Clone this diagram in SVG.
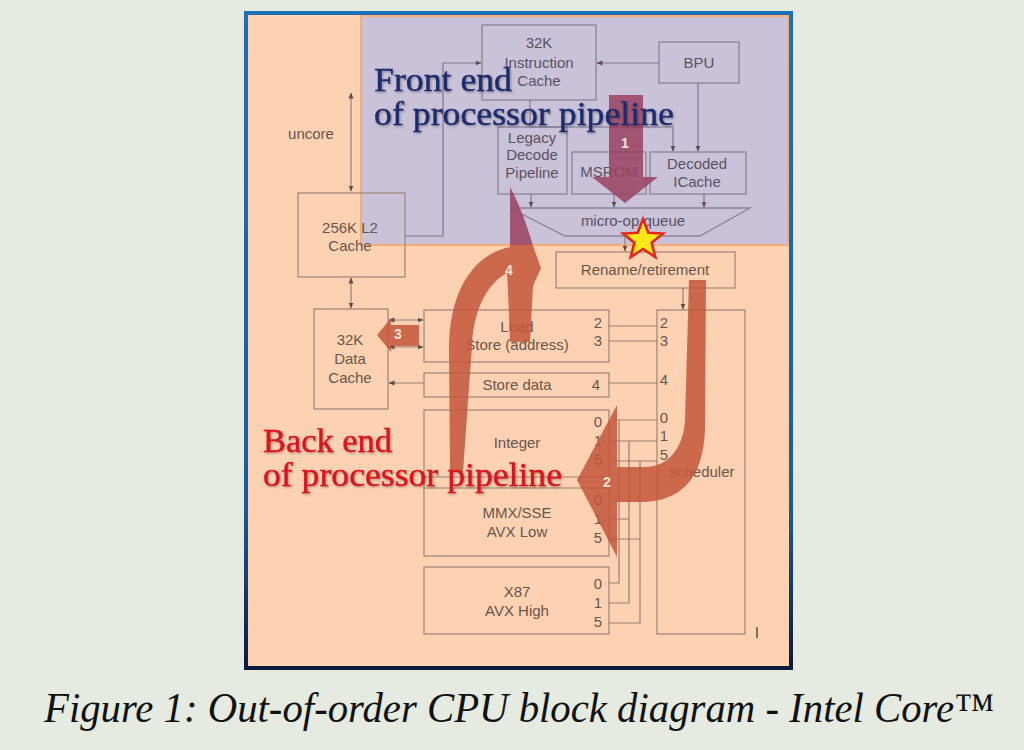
<svg xmlns="http://www.w3.org/2000/svg" width="1024" height="750" viewBox="0 0 1024 750">
<defs>
<style>
.bx{fill:none;stroke:#a3887b;stroke-width:1.3}
.bxf{fill:none;stroke:#8a8398;stroke-width:1.3}
.ln{fill:none;stroke:#9a7e70;stroke-width:1.2}
.lnf{fill:none;stroke:#7f7890;stroke-width:1.2}
.t{font-family:"Liberation Sans",Arial,sans-serif;font-size:15px;fill:#6a554b;text-anchor:middle}
.tf{font-family:"Liberation Sans",Arial,sans-serif;font-size:15px;fill:#5a5264;text-anchor:middle}
.big{font-family:"Liberation Serif","Times New Roman",serif;font-size:34px;stroke-width:0.4}
.lbl{font-family:"Liberation Sans",Arial,sans-serif;font-size:14px;font-weight:bold;fill:#fbe2d6;text-anchor:middle}
.arrO{fill:#c4563a;opacity:0.86}
.arrP{fill:#9a4262;opacity:0.86}
</style>
<linearGradient id="fr" x1="0" y1="0" x2="0" y2="1">
<stop offset="0" stop-color="#1b70b6"/>
<stop offset="0.75" stop-color="#1a5c9e"/>
<stop offset="1" stop-color="#0a1c3a"/>
</linearGradient>
<marker id="ah" markerWidth="6" markerHeight="6" refX="5.5" refY="3" orient="auto-start-reverse" markerUnits="userSpaceOnUse">
<path d="M0,0.5 L6,3 L0,5.5 z" fill="#5e4e4a"/>
</marker>
<filter id="sh" x="-5%" y="-20%" width="110%" height="140%">
<feDropShadow dx="1" dy="1.2" stdDeviation="0.8" flood-color="#000" flood-opacity="0.35"/>
</filter>
<clipPath id="cpP"><rect x="361" y="16" width="427" height="229"/></clipPath>
<clipPath id="cpO"><path d="M0,0 H361 V245 H1024 V750 H0 Z"/></clipPath>
<path id="a4" d="M450,472 L449,350 C449,298 468,256 510,247 L510,187 C520,205 528,228 533,246 L541,268 L533,286 L530,342 L510,342 L508,290 L507,273 C490,282 474,305 472,345 L463,472 Z"/>
</defs>

<rect width="1024" height="750" fill="#e5ebe1"/>
<rect x="246" y="13" width="545" height="655" fill="#fcd2b3" stroke="url(#fr)" stroke-width="4"/>
<rect x="361" y="16" width="427" height="229" fill="#c9c2d8" stroke="#f4ae74" stroke-width="2"/>

<g id="icache"><rect class="bxf" x="482" y="25" width="114" height="75"/>
<text class="tf" x="539" y="48">32K</text><text class="tf" x="539" y="68">Instruction</text><text class="tf" x="539" y="86">Cache</text></g>
<g id="bpu"><rect class="bxf" x="659" y="42" width="80" height="41"/><text class="tf" x="699" y="68">BPU</text></g>
<g id="legacy"><rect class="bxf" x="498" y="127" width="69" height="67"/>
<text class="tf" x="532" y="143">Legacy</text><text class="tf" x="532" y="160">Decode</text><text class="tf" x="532" y="178">Pipeline</text></g>
<g id="msrom"><rect class="bxf" x="572" y="152" width="74" height="42"/><text class="tf" x="609" y="177">MSROM</text></g>
<g id="dicache"><rect class="bxf" x="650" y="152" width="96" height="42"/>
<text class="tf" x="697" y="169">Decoded</text><text class="tf" x="697" y="187">ICache</text></g>
<g id="uopq"><polygon class="bxf" points="510,208 750,208 700,236 565,236"/><text class="tf" x="633" y="226">micro-op queue</text></g>
<g id="uncore"><text class="t" x="311" y="139">uncore</text></g>
<g id="l2"><rect class="bx" x="298" y="193" width="107" height="84"/>
<text class="t" x="350" y="233">256K L2</text><text class="t" x="350" y="251">Cache</text></g>
<g id="rename"><rect class="bx" x="556" y="252" width="179" height="36"/><text class="t" x="645" y="275">Rename/retirement</text></g>
<g id="dcache"><rect class="bx" x="314" y="309" width="74" height="100"/>
<text class="t" x="350" y="345">32K</text><text class="t" x="350" y="364">Data</text><text class="t" x="350" y="383">Cache</text></g>
<g id="loadstore"><rect class="bx" x="424" y="310" width="185" height="52"/>
<text class="t" x="517" y="332">Load</text><text class="t" x="517" y="350">Store (address)</text>
<text class="t" x="598" y="328">2</text><text class="t" x="598" y="346">3</text></g>
<g id="storedata"><rect class="bx" x="424" y="373" width="185" height="24"/>
<text class="t" x="517" y="390">Store data</text><text class="t" x="596" y="390">4</text></g>
<g id="intmmx"><rect class="bx" x="424" y="410" width="185" height="146"/>
<path class="ln" d="M424,477 H609 M424,488 H609"/>
<text class="t" x="517" y="448">Integer</text>
<text class="t" x="517" y="518">MMX/SSE</text><text class="t" x="517" y="537">AVX Low</text>
<text class="t" x="598" y="427">0</text><text class="t" x="598" y="446">1</text><text class="t" x="598" y="465">5</text>
<text class="t" x="598" y="505">0</text><text class="t" x="598" y="524">1</text><text class="t" x="598" y="543">5</text></g>
<g id="x87"><rect class="bx" x="424" y="567" width="185" height="67"/>
<text class="t" x="517" y="597">X87</text><text class="t" x="517" y="616">AVX High</text>
<text class="t" x="598" y="589">0</text><text class="t" x="598" y="608">1</text><text class="t" x="598" y="627">5</text></g>
<g id="sched"><rect class="bx" x="657" y="310" width="88" height="324"/>
<text class="t" x="702" y="477">scheduler</text>
<text class="t" x="664" y="328">2</text><text class="t" x="664" y="346">3</text><text class="t" x="664" y="385">4</text>
<text class="t" x="664" y="423">0</text><text class="t" x="664" y="441">1</text><text class="t" x="664" y="460">5</text></g>

<g id="connectors">
<path class="ln" d="M351,93 V191" marker-start="url(#ah)" marker-end="url(#ah)"/>
<path class="ln" d="M351,278 V308" marker-start="url(#ah)" marker-end="url(#ah)"/>
<path class="lnf" d="M405,236 H443 V63 H481" marker-end="url(#ah)"/>
<path class="lnf" d="M659,63 H597" marker-end="url(#ah)"/>
<path class="lnf" d="M530,100 V127 H673 V151" marker-end="url(#ah)"/>
<path class="lnf" d="M698,83 V151" marker-end="url(#ah)"/>
<path class="lnf" d="M531,194 V207" marker-end="url(#ah)"/>
<path class="lnf" d="M614,194 V207" marker-end="url(#ah)"/>
<path class="lnf" d="M704,194 V207" marker-end="url(#ah)"/>
<path class="ln" d="M625,236 V251" marker-end="url(#ah)"/>
<path class="ln" d="M683,288 V309" marker-end="url(#ah)"/>
<path class="ln" d="M389,320 H423" marker-start="url(#ah)" marker-end="url(#ah)"/>
<path class="ln" d="M389,347 H423" marker-start="url(#ah)" marker-end="url(#ah)"/>
<path class="ln" d="M424,383 H389" marker-end="url(#ah)"/>
<path class="ln" d="M609,326 H657 M609,341 H657 M609,383 H657 M613,420 H657 M609,441 H657 M609,461 H657"/>
<path class="ln" d="M619,420 V583 H609 M629,441 V603 H609 M640,461 V623 H609"/>
<path class="ln" d="M609,499 H619 M609,519 H629 M609,539 H640"/>
</g>

<g id="flow-arrows">
<path class="arrP" d="M609,95 H643 V177 H658 L625,203 L592,177 H609 Z"/>
<text class="lbl" x="625" y="148">1</text>
<path class="arrO" d="M689,280 L706,280 L705,430 C703,480 680,502 640,502 L617,502 L617,557 L577,480 L617,405 L617,467 L645,467 C670,467 684,445 685,420 Z"/>
<text class="lbl" x="607" y="487">2</text>
<path class="arrO" d="M419,325 L391,325 L391,318 L377,335 L391,352 L391,346 L419,346 Z"/>
<text class="lbl" x="398" y="339">3</text>
<use href="#a4" class="arrO" clip-path="url(#cpO)"/>
<use href="#a4" class="arrP" clip-path="url(#cpP)"/>
<text class="lbl" x="509" y="275">4</text>
</g>

<polygon points="643,219 648.3,232.7 663,233.5 651.6,242.8 655.3,257 643,249 630.7,257 634.4,242.8 623,233.5 637.7,232.7" fill="#ffe81a" stroke="#e4261a" stroke-width="2.6" stroke-linejoin="miter"/>

<g filter="url(#sh)">
<text class="big" x="374" y="91" fill="#1d2b6e" stroke="#1d2b6e" textLength="138" lengthAdjust="spacingAndGlyphs">Front end</text>
<text class="big" x="374" y="125" fill="#1d2b6e" stroke="#1d2b6e" textLength="300" lengthAdjust="spacingAndGlyphs">of processor pipeline</text>
<text class="big" x="263" y="452" fill="#d9141e" stroke="#d9141e" textLength="129" lengthAdjust="spacingAndGlyphs">Back end</text>
<text class="big" x="263" y="486" fill="#d9141e" stroke="#d9141e" textLength="299" lengthAdjust="spacingAndGlyphs">of processor pipeline</text>
</g>

<path d="M757,627 V638" stroke="#5a4a44" stroke-width="1.5"/>

<text x="44" y="722" font-family="'Liberation Serif','Times New Roman',serif" font-style="italic" font-size="42" fill="#111" textLength="950" lengthAdjust="spacingAndGlyphs">Figure 1: Out-of-order CPU block diagram - Intel Core™</text>
</svg>
